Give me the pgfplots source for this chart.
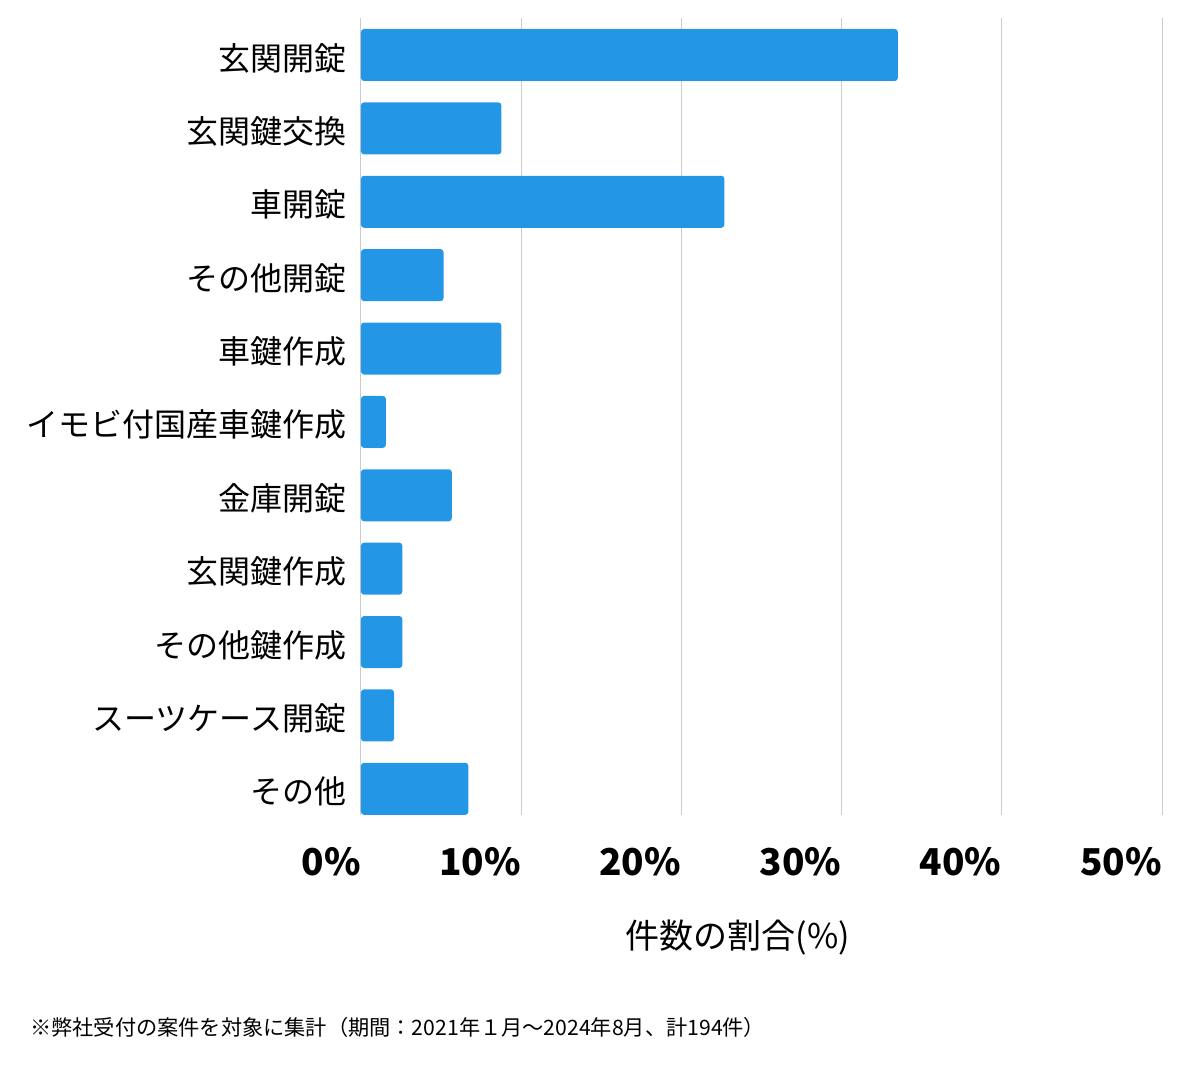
\documentclass[border=0pt]{standalone}
\usepackage{fontspec}
\usepackage{pgfplots}
\pgfplotsset{compat=1.18}
\setmainfont{Noto Sans CJK JP}
\definecolor{barblue}{HTML}{2496E6}
\definecolor{gridgray}{HTML}{CCCCCC}

\begin{document}
\begin{tikzpicture}
\useasboundingbox (0,0) rectangle (600pt,-534.5pt);
\begin{axis}[
    at={(180.5pt,-407.5pt)}, anchor=south west,
    scale only axis, width=400.5pt, height=398.5pt,
    xbar, bar width=26pt,
    xmin=0, xmax=50, ymin=-0.504, ymax=10.357, y dir=reverse,
    enlargelimits=false,
    axis line style={draw=none},
    tick style={draw=none},
    xmajorgrids, grid style={gridgray, line width=0.5pt},
    xtick={0,10,20,30,40,50},
    xticklabels={0\%,10\%,20\%,30\%,40\%,50\%},
    xticklabel style={font=\fontsize{18.5}{18.5}\selectfont\bfseries, anchor=base east, inner sep=0pt, yshift=-30pt},
    ytick={0,...,10},
    yticklabels={玄関開錠,玄関鍵交換,車開錠,その他開錠,車鍵作成,イモビ付国産車鍵作成,金庫開錠,玄関鍵作成,その他鍵作成,スーツケース開錠,その他},
    yticklabel style={font=\fontsize{16}{16}\selectfont, anchor=east, inner sep=0pt, xshift=-3pt, yshift=-1.5pt},
]
\addplot[draw=none, fill=barblue, rounded corners=1.5pt] coordinates {
    (33.51,0) (8.76,1) (22.68,2) (5.15,3) (8.76,4) (1.55,5)
    (5.67,6) (2.58,7) (2.58,8) (2.06,9) (6.70,10)
};
\end{axis}
\node[anchor=base, font=\fontsize{17}{17}\selectfont] at (369pt,-474pt) {件数の割合(\%)};
\node[anchor=base west, inner sep=0pt, font=\fontsize{10.6}{10.6}\selectfont] at (15pt,-517.5pt) {※弊社受付の案件を対象に集計（期間：2021年１月～2024年8月、計194件）};
\end{tikzpicture}
\end{document}
